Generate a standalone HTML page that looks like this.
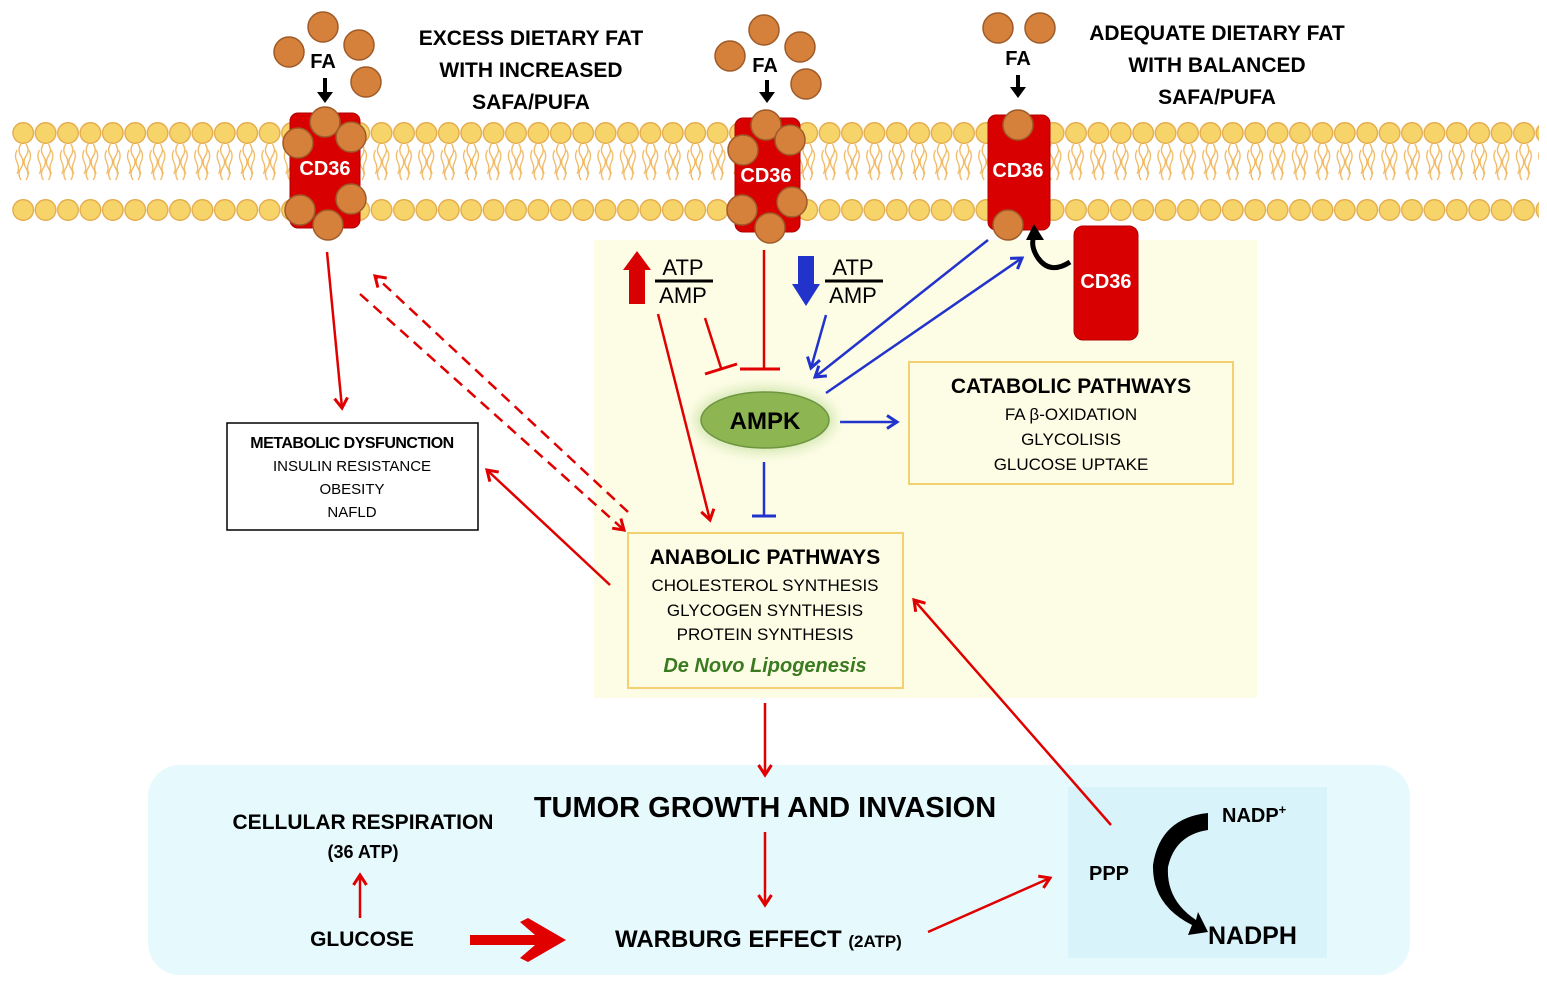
<!DOCTYPE html>
<html><head><meta charset="utf-8"><style>
html,body{margin:0;padding:0;background:#fff}
svg{display:block}
text{font-family:"Liberation Sans",sans-serif}
.b{font-weight:bold}
</style></head><body>
<svg width="1547" height="982" viewBox="0 0 1547 982" xmlns="http://www.w3.org/2000/svg">
<defs>
<pattern id="mem" x="12" y="120" width="22.4" height="110" patternUnits="userSpaceOnUse">
<path d="M9 24 q-4 6 0 12 q4 6 0 12 q-4 6 0 12 M14 24 q4 6 0 12 q-4 6 0 12 q4 6 0 12 M5 30 q-3 6 0 12 q3 6 0 12 M17 30 q3 6 0 12 q-3 6 0 12" fill="none" stroke="#f0b860" stroke-width="1.3"/>
<circle cx="11.2" cy="13" r="10.3" fill="#f7d46a" stroke="#e3a848" stroke-width="1.3"/>
<circle cx="11.2" cy="90" r="10.3" fill="#f7d46a" stroke="#e3a848" stroke-width="1.3"/>
</pattern>
<marker id="ar" markerWidth="16" markerHeight="16" refX="12" refY="8" orient="auto" markerUnits="userSpaceOnUse"><path d="M2 1.5 L12 8 L2 14.5" fill="none" stroke="#e00000" stroke-width="3"/></marker>
<marker id="ab" markerWidth="16" markerHeight="16" refX="12" refY="8" orient="auto" markerUnits="userSpaceOnUse"><path d="M2 1.5 L12 8 L2 14.5" fill="none" stroke="#2233cc" stroke-width="3"/></marker>
<filter id="glow" x="-50%" y="-50%" width="200%" height="200%"><feGaussianBlur stdDeviation="6"/></filter>
</defs>

<rect x="594" y="240" width="663" height="458" fill="#fdfde6"/>
<rect x="148" y="765" width="1262" height="210" rx="32" fill="#e6fafd"/>
<rect x="1068" y="787" width="259" height="171" fill="#d9f3fa"/>

<rect x="12" y="120" width="1527" height="112" fill="url(#mem)"/>

<rect x="290" y="113" width="70" height="115" rx="8" fill="#d80000" stroke="#b00000"/>
<g fill="#d5813c" stroke="#9e5a28" stroke-width="1.5">
<circle cx="325" cy="122" r="15"/><circle cx="298" cy="143" r="15"/><circle cx="351" cy="137" r="15"/>
<circle cx="300" cy="210" r="15"/><circle cx="351" cy="199" r="15"/><circle cx="328" cy="225" r="15"/>
<circle cx="323" cy="27" r="15"/><circle cx="289" cy="52" r="15"/><circle cx="359" cy="45" r="15"/><circle cx="366" cy="82" r="15"/>
</g>
<text x="325" y="175" font-size="20" class="b" fill="#fff" text-anchor="middle">CD36</text>
<text x="323" y="68" font-size="20" class="b" text-anchor="middle">FA</text>
<path d="M325 78 V94" stroke="#000" stroke-width="4"/><path d="M317 92 L325 103 L333 92Z"/>

<rect x="735" y="118" width="65" height="114" rx="8" fill="#d80000" stroke="#b00000"/>
<g fill="#d5813c" stroke="#9e5a28" stroke-width="1.5">
<circle cx="766" cy="125" r="15"/><circle cx="743" cy="150" r="15"/><circle cx="790" cy="140" r="15"/>
<circle cx="742" cy="210" r="15"/><circle cx="792" cy="202" r="15"/><circle cx="770" cy="228" r="15"/>
<circle cx="764" cy="30" r="15"/><circle cx="730" cy="56" r="15"/><circle cx="800" cy="47" r="15"/><circle cx="806" cy="84" r="15"/>
</g>
<text x="766" y="182" font-size="20" class="b" fill="#fff" text-anchor="middle">CD36</text>
<text x="765" y="72" font-size="20" class="b" text-anchor="middle">FA</text>
<path d="M767 80 V94" stroke="#000" stroke-width="4"/><path d="M759 92 L767 103 L775 92Z"/>

<rect x="988" y="115" width="62" height="115" rx="8" fill="#d80000" stroke="#b00000"/>
<g fill="#d5813c" stroke="#9e5a28" stroke-width="1.5">
<circle cx="1018" cy="125" r="15"/><circle cx="1008" cy="225" r="15"/>
<circle cx="998" cy="28" r="15"/><circle cx="1040" cy="28" r="15"/>
</g>
<text x="1018" y="177" font-size="20" class="b" fill="#fff" text-anchor="middle">CD36</text>
<text x="1018" y="65" font-size="20" class="b" text-anchor="middle">FA</text>
<path d="M1018 75 V89" stroke="#000" stroke-width="4"/><path d="M1010 87 L1018 98 L1026 87Z"/>

<rect x="1074" y="226" width="64" height="114" rx="9" fill="#d80000" stroke="#b00000"/>
<text x="1106" y="288" font-size="20" class="b" fill="#fff" text-anchor="middle">CD36</text>
<path d="M1070 262 Q1050 275 1038 258 Q1030 246 1034 236" fill="none" stroke="#000" stroke-width="5"/>
<path d="M1026 240 L1034 224 L1044 240Z"/>

<g font-size="21" class="b" text-anchor="middle">
<text x="531" y="45">EXCESS DIETARY FAT</text>
<text x="531" y="77">WITH INCREASED</text>
<text x="531" y="109">SAFA/PUFA</text>
<text x="1217" y="40">ADEQUATE DIETARY FAT</text>
<text x="1217" y="72">WITH BALANCED</text>
<text x="1217" y="104">SAFA/PUFA</text>
</g>

<path d="M629 304 V270 H623 L637 251 L651 270 H645 V304Z" fill="#d80000"/>
<text x="683" y="275" font-size="22" text-anchor="middle">ATP</text>
<path d="M655 281 H713" stroke="#000" stroke-width="3"/>
<text x="683" y="303" font-size="22" text-anchor="middle">AMP</text>
<path d="M798 256 V284 H792 L806 306 L820 284 H814 V256Z" fill="#2233cc"/>
<text x="853" y="275" font-size="22" text-anchor="middle">ATP</text>
<path d="M825 281 H883" stroke="#000" stroke-width="3"/>
<text x="853" y="303" font-size="22" text-anchor="middle">AMP</text>

<g stroke="#e00000" stroke-width="2.5" fill="none">
<path d="M327 252 L342 408" marker-end="url(#ar)"/>
<path d="M628 512 L375 276" stroke-dasharray="11 7" marker-end="url(#ar)"/>
<path d="M360 294 L624 530" stroke-dasharray="11 7" marker-end="url(#ar)"/>
<path d="M610 585 L487 470" marker-end="url(#ar)"/>
<path d="M658 314 L710 520" marker-end="url(#ar)"/>
<path d="M705 318 L721 368"/><path d="M705 374 L737 364" stroke-width="3"/>
<path d="M764 250 V368"/><path d="M740 369 H780" stroke-width="3"/>
<path d="M765 703 V775" marker-end="url(#ar)"/>
<path d="M765 832 V905" marker-end="url(#ar)"/>
<path d="M928 932 L1050 878" marker-end="url(#ar)"/>
<path d="M1111 825 L914 600" marker-end="url(#ar)"/>
<path d="M360 918 V875" marker-end="url(#ar)"/>
</g>
<path d="M470 935 H535 L520 922 L528 918 L566 940 L528 962 L520 958 L535 945 H470Z" fill="#e00000"/>

<g stroke="#2233cc" stroke-width="2.5" fill="none">
<path d="M826 315 L811 368" marker-end="url(#ab)"/>
<path d="M988 240 L815 377" marker-end="url(#ab)"/>
<path d="M826 393 L1022 258" marker-end="url(#ab)"/>
<path d="M840 422 H897" marker-end="url(#ab)"/>
<path d="M764 462 V515"/><path d="M752 516 H776" stroke-width="3"/>
</g>

<ellipse cx="765" cy="420" rx="70" ry="33" fill="#b8d890" opacity="0.6" filter="url(#glow)"/>
<ellipse cx="765" cy="420" rx="64" ry="28" fill="#8db552" stroke="#6e9540" stroke-width="1.5"/>
<text x="765" y="429" font-size="24" class="b" text-anchor="middle">AMPK</text>

<rect x="227" y="423" width="251" height="107" fill="#fff" stroke="#000" stroke-width="1.5"/>
<text x="352" y="448" font-size="16" class="b" text-anchor="middle" letter-spacing="-0.5">METABOLIC DYSFUNCTION</text>
<g font-size="15" text-anchor="middle"><text x="352" y="471">INSULIN RESISTANCE</text><text x="352" y="494">OBESITY</text><text x="352" y="517">NAFLD</text></g>

<rect x="909" y="362" width="324" height="122" fill="#fdfde6" stroke="#f3d070" stroke-width="2"/>
<text x="1071" y="393" font-size="21" class="b" text-anchor="middle">CATABOLIC PATHWAYS</text>
<g font-size="17" text-anchor="middle"><text x="1071" y="420">FA β-OXIDATION</text><text x="1071" y="445">GLYCOLISIS</text><text x="1071" y="470">GLUCOSE UPTAKE</text></g>

<rect x="628" y="533" width="275" height="155" fill="#fdfde6" stroke="#f3d070" stroke-width="2"/>
<text x="765" y="564" font-size="21" class="b" text-anchor="middle">ANABOLIC PATHWAYS</text>
<g font-size="17" text-anchor="middle"><text x="765" y="591">CHOLESTEROL SYNTHESIS</text><text x="765" y="616">GLYCOGEN SYNTHESIS</text><text x="765" y="640">PROTEIN SYNTHESIS</text></g>
<text x="765" y="672" font-size="20" font-weight="bold" font-style="italic" fill="#3a7a20" text-anchor="middle">De Novo Lipogenesis</text>

<text x="765" y="817" font-size="29" class="b" text-anchor="middle">TUMOR GROWTH AND INVASION</text>
<text x="363" y="829" font-size="21" class="b" text-anchor="middle">CELLULAR RESPIRATION</text>
<text x="363" y="858" font-size="18" class="b" text-anchor="middle">(36 ATP)</text>
<text x="362" y="946" font-size="21" class="b" text-anchor="middle">GLUCOSE</text>
<text x="615" y="947" font-size="24" class="b">WARBURG EFFECT <tspan font-size="17">(2ATP)</tspan></text>
<text x="1109" y="880" font-size="20" class="b" text-anchor="middle">PPP</text>
<text x="1222" y="822" font-size="20" class="b">NADP<tspan font-size="13" dy="-8">+</tspan></text>
<text x="1208" y="944" font-size="25" class="b">NADPH</text>
<path d="M1208 813 Q1160 818 1153 865 Q1152 905 1192 925 L1188 935 L1208 932 L1198 912 L1196 920 Q1166 900 1168 867 Q1175 835 1208 830Z" fill="#000"/>
</svg>
</body></html>
